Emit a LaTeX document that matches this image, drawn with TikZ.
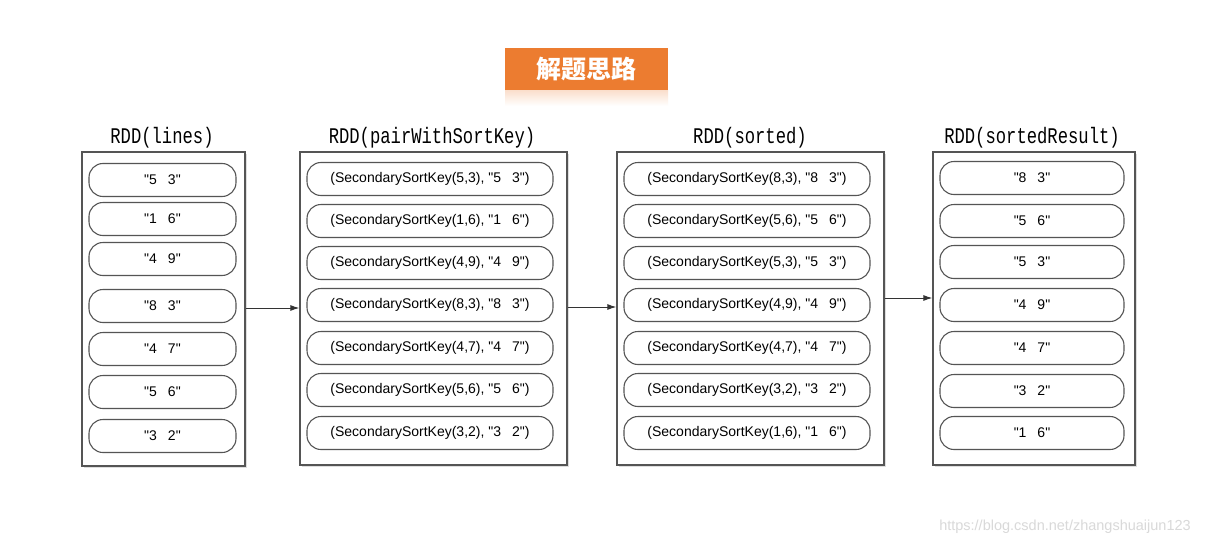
\documentclass[tikz,border=0pt]{standalone}
\usepackage{fontspec}
\setmainfont{Liberation Sans}
\newfontfamily\cjkfont{Noto Sans CJK SC}
\newfontfamily\rddmono{Liberation Mono}
\usetikzlibrary{arrows.meta,calc,shadows}
\definecolor{titleorange}{RGB}{236,124,48}
\definecolor{edgegray}{RGB}{85,85,85}
\newcommand\qq[2]{\textquotedbl#1\hspace{11pt}#2\textquotedbl}
\tikzset{
  rddbox/.style={draw=edgegray, line width=1.3pt, fill=white, inner sep=0pt,
    drop shadow={shadow xshift=2pt, shadow yshift=-2pt, fill=black!25}},
  pill/.style={draw=edgegray, line width=1.1pt, rounded corners=14pt, minimum height=33pt,
    inner sep=0pt, fill=white, font=\fontsize{14}{15}\selectfont},
  rddlabel/.style={font=\rddmono\fontsize{17.2}{18}\selectfont, inner sep=0pt},
  flow/.style={draw=black!80, line width=1pt, -{Latex[length=9pt,width=6pt]}}
}
\begin{document}
\begin{tikzpicture}[x=1pt,y=-1pt]
\useasboundingbox (0,0) rectangle (1213,546);
\fill[white] (0,0) rectangle (1213,546);

% title
\shade[top color=titleorange!25, bottom color=white] (505,90) rectangle (668,106);
\node[fill=titleorange, minimum width=163pt, minimum height=42pt, inner sep=0pt,
  text=white, font=\cjkfont\bfseries\fontsize{25}{26}\selectfont] (title) at (586.5,69) {解题思路};

% boxes
\node[rddbox, minimum width=163pt, minimum height=314pt] (b1) at (163.5,309) {};
\node[rddbox, minimum width=267pt, minimum height=313pt] (b2) at (433.5,308.5) {};
\node[rddbox, minimum width=267pt, minimum height=313pt] (b3) at (750.5,308.5) {};
\node[rddbox, minimum width=202pt, minimum height=313pt] (b4) at (1034,308.5) {};

% labels
\node[rddlabel] (l1) at (162,138) {\scalebox{1}[1.3]{RDD(lines)}};
\node[rddlabel] (l2) at (432,138) {\scalebox{1}[1.3]{RDD(pairWithSortKey)}};
\node[rddlabel] (l3) at (750,138) {\scalebox{1}[1.3]{RDD(sorted)}};
\node[rddlabel] (l4) at (1032,138) {\scalebox{1}[1.3]{RDD(sortedResult)}};

% pills box 1
\foreach \a/\b/\y [count=\i] in {5/3/180,1/6/219,4/9/259,8/3/306,4/7/349,5/6/392,3/2/436}
  \node[pill, minimum width=147pt] (p1-\i) at (162.5,\y) {\qq{\a}{\b}};
% pills box 2
\foreach \a/\b/\y [count=\i] in {5/3/179,1/6/221,4/9/263,8/3/305,4/7/348,5/6/390,3/2/433}
  \node[pill, minimum width=246pt] (p2-\i) at (430,\y) {(SecondarySortKey(\a,\b), \qq{\a}{\b})};
% pills box 3
\foreach \a/\b/\y [count=\i] in {8/3/179,5/6/221,5/3/263,4/9/305,4/7/348,3/2/390,1/6/433}
  \node[pill, minimum width=246pt] (p3-\i) at (747,\y) {(SecondarySortKey(\a,\b), \qq{\a}{\b})};
% pills box 4
\foreach \a/\b/\y [count=\i] in {8/3/178,5/6/221,5/3/262,4/9/305,4/7/348,3/2/391,1/6/433}
  \node[pill, minimum width=184pt] (p4-\i) at (1032,\y) {\qq{\a}{\b}};

% arrows
\draw[flow] (b1.east |- 0,308) -- (b2.west |- 0,308);
\draw[flow] (b2.east |- 0,307) -- (b3.west |- 0,307);
\draw[flow] (b3.east |- 0,298) -- (b4.west |- 0,298);

% watermark
\node[text=black!15, font=\fontsize{14.5}{16}\selectfont, inner sep=0pt] (wm) at (1065,527) {https://blog.csdn.net/zhangshuaijun123};
\end{tikzpicture}
\end{document}
